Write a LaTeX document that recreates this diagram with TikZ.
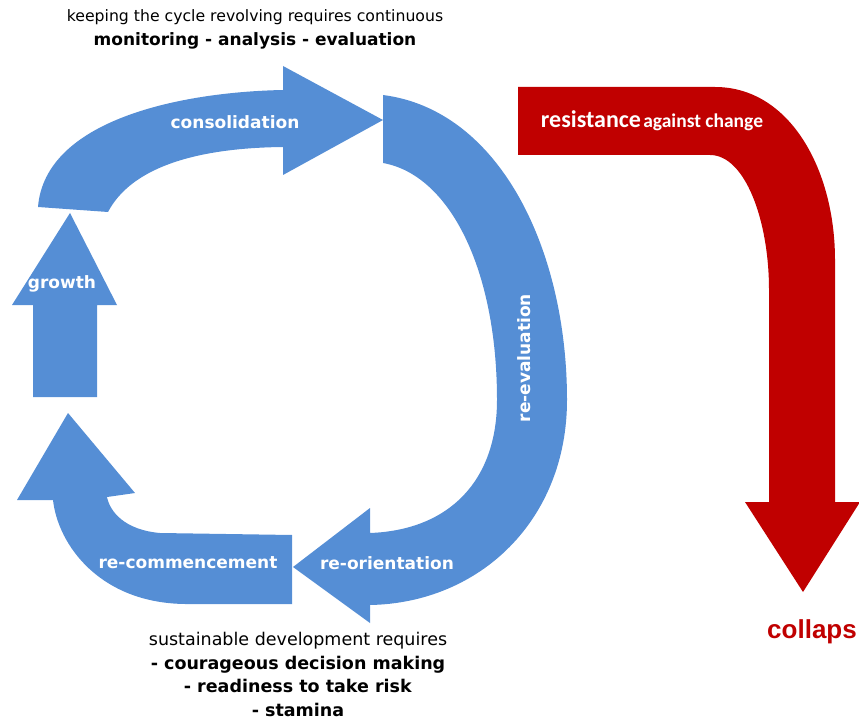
\documentclass[tikz,border=0pt]{standalone}
\usepackage{fontspec}
\setmainfont{DejaVu Sans}
\newfontfamily\calfont{Carlito}
\newfontfamily\arialfont{Liberation Sans}
\usepackage{tikz}

\definecolor{cycleblue}{RGB}{85,142,213}
\definecolor{collapsered}{RGB}{192,0,0}
\tikzset{
    bluearrow/.style={fill=cycleblue},
    redarrow/.style={fill=collapsered},
    inlabel/.style={text=white,font=\bfseries\fontsize{17}{19}\selectfont},
    note/.style={align=center,font=\fontsize{16}{24}\selectfont,inner sep=0pt}
}

\begin{document}
\begin{tikzpicture}[x=1pt,y=-1pt]
    \useasboundingbox (0,0) rectangle (859,727); % canvas
    \fill[bluearrow] (38,207) .. controls (45,120) and (180,92) .. (283,90) -- (283,66) -- (383,120) -- (283,175) -- (283,147) .. controls (190,148) and (130,170) .. (108,212) -- cycle; % consolidation
    \fill[bluearrow] (33,397) -- (33,305) -- (12,305) -- (70,213) -- (117,305) -- (97,305) -- (97,397) -- cycle; % growth
    \fill[bluearrow] (292,535) -- (160,533) .. controls (125,530) and (110,512) .. (107,497) -- (135,493) -- (68,413) -- (17,500) -- (53,500) .. controls (58,545) and (100,603) .. (185,604) -- (292,604) -- cycle; % re-commencement
    \fill[bluearrow] (383,95) .. controls (500,110) and (567,250) .. (567,400) .. controls (567,520) and (480,603) .. (370,605) -- (370,623) -- (293,567) -- (370,508) -- (370,533) .. controls (450,530) and (497,480) .. (497,400) .. controls (497,270) and (450,175) .. (383,163) -- cycle; % re-evaluation and re-orientation
    \fill[redarrow] (518,87) -- (715,87) .. controls (790,87) and (835,170) .. (835,260) -- (835,502) -- (860,502) -- (803,592) -- (745,502) -- (769,502) -- (769,290) .. controls (769,220) and (745,155) .. (710,155) -- (518,155) -- cycle; % resistance

    \node[note,anchor=north] (monitor) at (255,9) {{\fontsize{15.7}{24}\selectfont keeping the cycle revolving requires continuous}\\\textbf{\fontsize{17}{24}\selectfont monitoring - analysis - evaluation}};
    \node[inlabel] (consol) at (235,122) {consolidation};
    \node[inlabel] (growth) at (62,284) {growth};
    \node[inlabel] (recomm) at (188,563) {re-commencement};
    \node[inlabel] (reorient) at (387,563) {re-orientation};
    \node[inlabel,rotate=90] (reeval) at (524,358) {re-evaluation};
    \node[text=white,font=\calfont\bfseries] (resist) at (652,121) {{\fontsize{24}{26}\selectfont resistance} {\fontsize{19.5}{22}\selectfont against change}};
    \node[note,anchor=north,font=\fontsize{17.5}{23.5}\selectfont] (sustain) at (298,632) {sustainable development requires\\\textbf{- courageous decision making}\\\textbf{- readiness to take risk}\\\textbf{- stamina}};
    \node[text=collapsered,font=\arialfont\bfseries\fontsize{26}{28}\selectfont,anchor=west,inner sep=0pt] (collapse) at (767,632) {collaps};
\end{tikzpicture}
\end{document}
